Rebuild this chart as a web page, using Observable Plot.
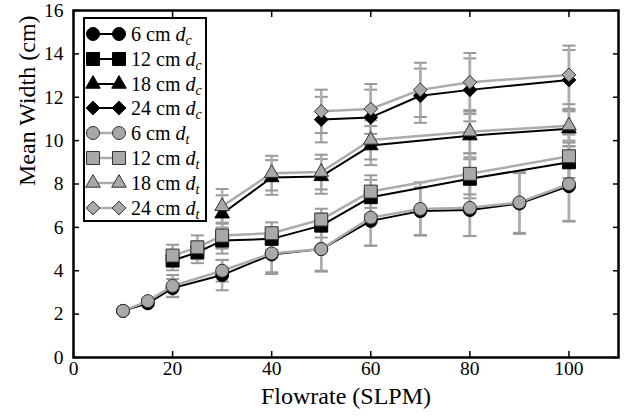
<!DOCTYPE html>
<html><head><meta charset="utf-8">
<script src="https://cdn.jsdelivr.net/npm/d3@7"></script>
<script src="https://cdn.jsdelivr.net/npm/@observablehq/plot@0.6"></script>
<style>
body{margin:0;background:#fff;}
#wrap{position:relative;width:631px;height:418px;font-family:"Liberation Serif","Times New Roman",serif;color:#000;}
#legend{position:absolute;left:83px;top:17px;width:120px;height:201px;border:2px solid #000;background:#fff;}
.row{position:absolute;left:0;height:24px;width:120px;}
.row svg{position:absolute;left:0;top:0;}
.row span{position:absolute;left:46px;top:0;line-height:24px;font-size:20px;white-space:nowrap;}
.row sub{font-size:14px;font-style:italic;vertical-align:-4px;line-height:0;}
</style></head><body><div id="wrap"></div>
<script>
// ---- data ----
const flow6  = [10, 15, 20, 30, 40, 50, 60, 70, 80, 90, 100];
const w6c    = [2.15, 2.5, 3.2, 3.8, 4.75, 5.0, 6.3, 6.75, 6.8, 7.1, 7.9];
const e6c    = [0.05, 0.1, 0.42, 0.7, 0.9, 1.0, 1.15, 1.1, 1.2, 1.4, 1.6];
const w6t    = [2.15, 2.6, 3.3, 4.0, 4.8, 5.0, 6.45, 6.85, 6.9, 7.15, 8.0];
const e6t    = [0.05, 0.1, 0.5, 0.5, 0.87, 1.04, 1.29, 1.23, 1.3, 1.4, 1.73];

const flow12 = [20, 25, 30, 40, 50, 60, 80, 100];
const w12c   = [4.47, 4.85, 5.39, 5.47, 6.08, 7.39, 8.24, 9.0];
const e12c   = [0.45, 0.5, 0.6, 0.5, 0.55, 0.8, 0.9, 1.0];
const w12t   = [4.7, 5.08, 5.62, 5.73, 6.36, 7.65, 8.47, 9.28];
const e12t   = [0.5, 0.55, 0.6, 0.5, 0.5, 0.75, 0.95, 1.0];

const flow18 = [30, 40, 50, 60, 80, 100];
const w18c   = [6.63, 8.3, 8.35, 9.77, 10.23, 10.55];
const e18c   = [0.85, 0.8, 0.8, 0.9, 1.0, 0.8];
const w18t   = [6.97, 8.5, 8.55, 10.03, 10.41, 10.69];
const e18t   = [0.8, 0.8, 0.8, 0.9, 1.0, 0.78];

const flow24 = [50, 60, 70, 80, 100];
const w24c   = [10.97, 11.07, 12.07, 12.34, 12.8];
const e24c   = [1.05, 1.28, 1.25, 1.45, 1.38];
const w24t   = [11.35, 11.46, 12.34, 12.69, 13.03];
const e24t   = [1.0, 1.15, 1.25, 1.35, 1.35];

const xTicks = [0, 20, 40, 60, 80, 100];
const yTicks = [0, 2, 4, 6, 8, 10, 12, 14, 16];
const xTitle = "Flowrate (SLPM)";
const yTitle = "Mean Width (cm)";

// ---- series table ----
const series = [
  {size: "6",  kind: "c", flow: flow6,  w: w6c,  e: e6c,  symbol: "circle",   r: 6.5},
  {size: "12", kind: "c", flow: flow12, w: w12c, e: e12c, symbol: "square",   r: 7.3},
  {size: "18", kind: "c", flow: flow18, w: w18c, e: e18c, symbol: "triangle", r: 5.4},
  {size: "24", kind: "c", flow: flow24, w: w24c, e: e24c, symbol: "diamond2", r: 6.2},
  {size: "6",  kind: "t", flow: flow6,  w: w6t,  e: e6t,  symbol: "circle",   r: 6.5},
  {size: "12", kind: "t", flow: flow12, w: w12t, e: e12t, symbol: "square",   r: 7.3},
  {size: "18", kind: "t", flow: flow18, w: w18t, e: e18t, symbol: "triangle", r: 5.4},
  {size: "24", kind: "t", flow: flow24, w: w24t, e: e24t, symbol: "diamond2", r: 6.2}
].map(s => ({...s, rows: s.flow.map((f, i) => ({flow: f, w: s.w[i], e: s.e[i]}))}));

const styleOf = s => s.kind === "c"
  ? {line: "#000", lineW: 2, fill: "#000", stroke: "#000", sw: 1}
  : {line: "#ababab", lineW: 2.5, fill: "#a9a9a9", stroke: "#303030", sw: 1};

const cap = {draw(ctx, size) { const w = 6.5; ctx.moveTo(-w, 0); ctx.lineTo(w, 0); }};

const errMarks = series.flatMap(s => [
  Plot.ruleX(s.rows, {x: "flow", y1: d => d.w - d.e, y2: d => d.w + d.e, stroke: "#adadad", strokeWidth: 2.5}),
  Plot.dot(s.rows, {x: "flow", y: d => d.w + d.e, symbol: cap, r: 3, fill: "none", stroke: "#999", strokeWidth: 2}),
  Plot.dot(s.rows, {x: "flow", y: d => d.w - d.e, symbol: cap, r: 3, fill: "none", stroke: "#999", strokeWidth: 2})
]);
const seriesMarks = series.flatMap(s => {
  const st = styleOf(s);
  return [
    Plot.line(s.rows, {x: "flow", y: "w", stroke: st.line, strokeWidth: st.lineW}),
    Plot.dot(s.rows, {x: "flow", y: "w", symbol: s.symbol, r: s.r, fill: st.fill, stroke: st.stroke, strokeWidth: st.sw})
  ];
});

const chart = Plot.plot({
  width: 631, height: 418,
  marginLeft: 73, marginRight: 13, marginTop: 10, marginBottom: 61,
  x: {domain: [0, 110]},
  y: {domain: [0, 16]},
  style: {fontFamily: '"Liberation Serif", "Times New Roman", serif', fontSize: "19.5px", color: "#000", background: "#fff"},
  marks: [
    ...errMarks,
    ...seriesMarks,
    Plot.axisX({ticks: xTicks, tickSize: 0, tickPadding: 4, label: null}),
    Plot.axisX({ticks: xTicks, tickSize: -6, tickFormat: () => "", label: null, strokeWidth: 1.5}),
    Plot.axisX({anchor: "top", ticks: xTicks, tickSize: -6, tickFormat: () => "", label: null, strokeWidth: 1.5}),
    Plot.axisY({ticks: yTicks, tickSize: 0, tickPadding: 10, label: null}),
    Plot.axisY({ticks: yTicks, tickSize: -6, tickFormat: () => "", label: null, strokeWidth: 1.5}),
    Plot.axisY({anchor: "right", ticks: yTicks, tickSize: -6, tickFormat: () => "", label: null, strokeWidth: 1.5}),
    Plot.frame({stroke: "#000", strokeWidth: 2.5}),
    Plot.text([xTitle], {frameAnchor: "bottom", dy: 46, fontSize: 24}),
    Plot.text([yTitle], {frameAnchor: "left", dx: -46, dy: 2, rotate: -90, fontSize: 24})
  ]
});
const wrap = document.getElementById("wrap");
wrap.appendChild(chart);

// ---- legend (inside plot, upper left) ----
const legend = document.createElement("div");
legend.id = "legend";
series.forEach((s, i) => {
  const st = styleOf(s);
  const row = document.createElement("div");
  row.className = "row";
  row.style.top = (15 + 24.8 * i - 12) + "px";
  const symType = {circle: d3.symbolCircle, square: d3.symbolSquare, triangle: d3.symbolTriangle, diamond2: d3.symbolDiamond2}[s.symbol];
  const path = d3.symbol(symType, s.r * s.r * Math.PI)();
  row.innerHTML =
    `<svg width="46" height="24"><line x1="8" y1="12" x2="34" y2="12" stroke="${st.line}" stroke-width="${st.lineW}"/>` +
    `<path transform="translate(8,12)" d="${path}" fill="${st.fill}" stroke="${st.stroke}" stroke-width="${st.sw}"/>` +
    `<path transform="translate(34,12)" d="${path}" fill="${st.fill}" stroke="${st.stroke}" stroke-width="${st.sw}"/></svg>` +
    `<span>${s.size} cm <i>d</i><sub>${s.kind}</sub></span>`;
  legend.appendChild(row);
});
wrap.appendChild(legend);
</script></body></html>
